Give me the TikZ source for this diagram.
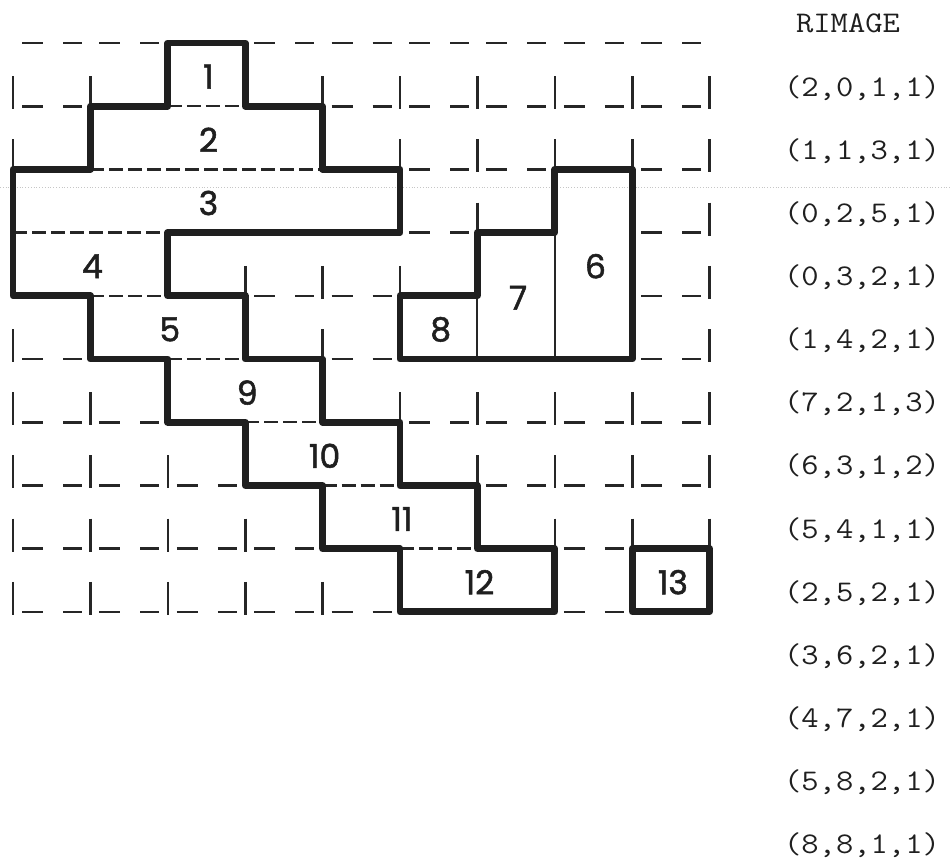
\documentclass[tikz,border=0pt]{standalone}
\usepackage{fontspec}
\usepackage{graphicx}
\newfontfamily\labfont[FakeBold=1.6]{Poppins}
\begin{document}
\begin{tikzpicture}[x=1pt,y=-1pt,
  gridline/.style={line width=2.6pt, line cap=butt, black!85},
  boldline/.style={line width=6.8pt, line join=round, line cap=round, black!88},
  innerdash/.style={line width=2.4pt, dash pattern=on 14pt off 5pt, black!85},
  innersolid/.style={line width=2pt, black!85},
  lab/.style={font=\labfont\fontsize{33}{33}\selectfont, inner sep=0pt, xshift=2pt, yshift=-2pt, text=black!88},
  tup/.style={font=\ttfamily\fontsize{30}{30}\selectfont\addfontfeatures{FakeBold=1.2}, inner sep=0pt, text=black!88}]
\useasboundingbox (0,0) rectangle (951,862);
\fill[white] (0,0) rectangle (951,862);
% faint scan line
\draw[gray!45, line width=0.8pt, dotted] (0,187) -- (951,187);
% top dashed line
\foreach \c in {0,1,3,4,5,6,7,8} {
  \draw[gridline] ({13+77.4*\c+9},43) -- ++(21,0) ({13+77.4*\c+50},43) -- ++(19,0);
}
% vertical ticks of the typed grid
\foreach \r/\cols in {0/{0,1,4,5,6,7,8,9}, 1/{0,5,6,7,8,9}, 2/{6,9}, 3/{3,4,5,9},
  4/{0,4,9}, 5/{0,1,5,6,7,8,9}, 6/{0,1,2,6,7,8,9}, 7/{0,1,2,3,7,8,9}, 8/{0,1,2,3,4}} {
  \foreach \c in \cols {
    \draw[gridline] ({13+77.4*\c},{43+63.2*(\r+1)-30}) -- ++(0,33);
  }
}
% bottom dashes of the typed grid
\foreach \r/\cols in {0/{0,4,5,6,7,8}, 1/{5,6,8}, 2/{5,8}, 3/{3,4,8}, 4/{0,4,8},
  5/{0,1,5,6,7,8}, 6/{0,1,2,6,7,8}, 7/{0,1,2,3,7}, 8/{0,1,2,3,4,7}} {
  \foreach \c in \cols {
    \draw[gridline] ({13+77.4*\c+9},{43+63.2*(\r+1)}) -- ++(21,0)
                    ({13+77.4*\c+50},{43+63.2*(\r+1)}) -- ++(19,0);
  }
}
\begin{scope}[shift={(13,43)}, x=77.4pt, y=-63.2pt]
  % internal boundaries
  \draw[innerdash] (2,1) -- (3,1);
  \draw[innerdash] (1,2) -- (4,2);
  \draw[innerdash] (0,3) -- (2,3);
  \draw[innerdash] (1,4) -- (2,4);
  \draw[innerdash] (2,5) -- (3,5);
  \draw[innerdash] (3,6) -- (4,6);
  \draw[innerdash] (4,7) -- (5,7);
  \draw[innerdash] (5,8) -- (6,8);
  \draw[innersolid] (6,4) -- (6,5);
  \draw[innersolid] (7,3) -- (7,5);
  % bold outlines
  \draw[boldline] (2,0) -- (3,0) -- (3,1) -- (4,1) -- (4,2) -- (5,2) -- (5,3) -- (2,3)
    -- (2,4) -- (3,4) -- (3,5) -- (4,5) -- (4,6) -- (5,6) -- (5,7) -- (6,7) -- (6,8)
    -- (7,8) -- (7,9) -- (5,9) -- (5,8) -- (4,8) -- (4,7) -- (3,7) -- (3,6) -- (2,6)
    -- (2,5) -- (1,5) -- (1,4) -- (0,4) -- (0,2) -- (1,2) -- (1,1) -- (2,1) -- cycle;
  \draw[boldline] (5,4) -- (6,4) -- (6,3) -- (7,3) -- (7,2) -- (8,2) -- (8,5) -- (5,5) -- cycle;
  \draw[boldline] (8,8) -- (9,8) -- (9,9) -- (8,9) -- cycle;
  % labels
  \node[lab] (l1) at (2.5,0.5) {1};
  \node[lab] (l2) at (2.5,1.5) {2};
  \node[lab] (l3) at (2.5,2.5) {3};
  \node[lab] (l4) at (1,3.5) {4};
  \node[lab] (l5) at (2,4.5) {5};
  \node[lab] (l6) at (7.5,3.5) {6};
  \node[lab] (l7) at (6.5,4) {7};
  \node[lab] (l8) at (5.5,4.5) {8};
  \node[lab] (l9) at (3,5.5) {9};
  \node[lab] (l10) at (4,6.5) {10};
  \node[lab] (l11) at (5,7.5) {11};
  \node[lab] (l12) at (6,8.5) {12};
  \node[lab] (l13) at (8.5,8.5) {13};
\end{scope}
% RIMAGE list
\node[tup] (rim) at (848,23) {\scalebox{1.12}[1]{RIMAGE}};
\foreach \t [count=\k from 0] in {(2,0,1,1),(1,1,3,1),(0,2,5,1),(0,3,2,1),(1,4,2,1),(7,2,1,3),
  (6,3,1,2),(5,4,1,1),(2,5,2,1),(3,6,2,1),(4,7,2,1),(5,8,2,1),(8,8,1,1)} {
  \node[tup] (t\k) at (862,{88+63.1*\k}) {\scalebox{1.12}[1]{\t}};
}
\end{tikzpicture}
\end{document}
